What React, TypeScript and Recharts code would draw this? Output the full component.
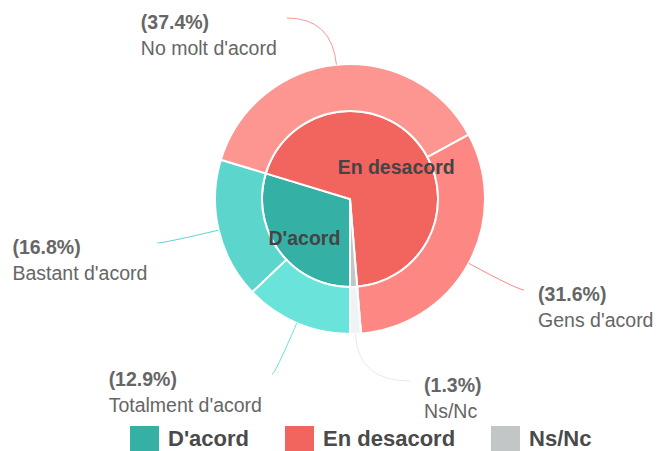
import { PieChart, Pie, Cell, Legend } from 'recharts';

// inner ring: answer groups
const GROUPS = ["D'acord", 'En desacord', 'Ns/Nc'];
const GROUP_VALUES = [29.7, 69.0, 1.3];
const GROUP_COLORS = ['#35b0a5', '#f2645e', '#c3c6c6'];

// outer ring: detailed answers
const ANSWERS = ["Totalment d'acord", "Bastant d'acord", "No molt d'acord", "Gens d'acord", 'Ns/Nc'];
const ANSWER_VALUES = [12.9, 16.8, 37.4, 31.6, 1.3];
const ANSWER_COLORS = ['#6ae4da', '#5cd6cc', '#fd9691', '#fd8883', '#eff3f6'];
const CONNECTOR_COLORS = ['#6ae4da', '#5cd6cc', '#fd9691', '#fd8883', '#e6e9ec'];

const groupData = GROUPS.map((name, i) => ({ name, value: GROUP_VALUES[i] }));
const answerData = ANSWERS.map((name, i) => ({ name, value: ANSWER_VALUES[i] }));

const FONT = '"Liberation Sans", Arial, Helvetica, sans-serif';
const LABEL_SIZE = 19.5;
const RAD = Math.PI / 180;
const CX = 350;
const CY = 199;
// labels sit on an ellipse around the pie, kept inside the plot vertically
const LABEL_RX = 198;
const LABEL_RY = 191;
const LABEL_TOP = 18;
const LABEL_BOTTOM = 381;

let measureCtx: CanvasRenderingContext2D | null = null;
function textWidth(s: string, font: string) {
  if (!measureCtx) measureCtx = document.createElement('canvas').getContext('2d');
  if (!measureCtx) return s.length * 9;
  measureCtx.font = font;
  return measureCtx.measureText(s).width;
}

function renderInnerLabel(props: any) {
  const { cx, cy, midAngle, outerRadius, index } = props;
  if (GROUP_VALUES[index] < 5) return null;
  const r = outerRadius - 30;
  const x = cx + r * Math.cos(-midAngle * RAD);
  const y = cy + r * Math.sin(-midAngle * RAD);
  return (
    <text
      x={x + 1}
      y={y + 11}
      textAnchor="middle"
      fill="#444444"
      fontFamily={FONT}
      fontSize={19.5}
      fontWeight="bold"
    >
      {GROUPS[index]}
    </text>
  );
}

function renderOuterLabel(props: any) {
  const { cx, cy, midAngle, outerRadius, index } = props;
  const cos = Math.cos(-midAngle * RAD);
  const sin = Math.sin(-midAngle * RAD);
  const sx = cx + outerRadius * cos;
  const sy = cy + outerRadius * sin;
  const right = cos >= 0;

  let ey = cy + LABEL_RY * sin;
  ey = Math.min(Math.max(ey, LABEL_TOP), LABEL_BOTTOM);
  const k = (ey - cy) / LABEL_RY;
  const ex = cx + (right ? 1 : -1) * LABEL_RX * Math.sqrt(Math.max(1 - k * k, 0));

  // bend point: where the radial ray meets the label's row
  let qx = sx;
  if (Math.abs(sin) > 0.01) {
    const t = (ey - sy) / sin;
    if (t > 0) qx = sx + t * cos;
  }
  qx = right ? Math.min(qx, ex) : Math.max(qx, ex);

  const pct = `(${ANSWER_VALUES[index].toFixed(1)}%)`;
  const name = ANSWERS[index];
  const w = Math.max(
    textWidth(pct, `bold ${LABEL_SIZE}px ${FONT}`),
    textWidth(name, `${LABEL_SIZE}px ${FONT}`)
  );
  const tx = right ? ex + 14 : ex - 10 - w;
  const base = ey + 11;

  return (
    <g>
      <path
        d={`M${sx},${sy} Q${qx},${ey} ${ex},${ey}`}
        stroke={CONNECTOR_COLORS[index]}
        strokeWidth={1}
        fill="none"
      />
      <text x={tx} y={base} fill="#666666" fontFamily={FONT} fontSize={LABEL_SIZE} fontWeight="bold">
        {pct}
      </text>
      <text x={tx} y={base + 26} fill="#666666" fontFamily={FONT} fontSize={LABEL_SIZE}>
        {name}
      </text>
    </g>
  );
}

function renderLegend() {
  return (
    <div style={{ display: 'flex', alignItems: 'flex-start', paddingLeft: 130, fontFamily: FONT }}>
      {GROUPS.map((g, i) => (
        <div key={g} style={{ display: 'flex', alignItems: 'flex-start', marginRight: 36 }}>
          <div style={{ width: 29, height: 25, background: GROUP_COLORS[i], marginRight: 9 }} />
          <span
            style={{
              fontSize: 22,
              fontWeight: 'bold',
              color: '#4a4a4a',
              lineHeight: '25px',
              whiteSpace: 'nowrap',
            }}
          >
            {g}
          </span>
        </div>
      ))}
    </div>
  );
}

export default function App() {
  return (
    <div style={{ position: 'absolute', left: 0, top: 0, width: 663, height: 451, overflow: 'hidden', background: '#fff' }}>
      <PieChart width={663} height={451} margin={{ top: 0, right: 0, bottom: 0, left: 0 }}>
        <Pie
          data={groupData}
          dataKey="value"
          cx={CX}
          cy={CY}
          outerRadius={88}
          startAngle={-90}
          endAngle={-450}
          stroke="#ffffff"
          strokeWidth={2}
          label={renderInnerLabel}
          labelLine={false}
          isAnimationActive={false}
        >
          {groupData.map((d, i) => (
            <Cell key={d.name} fill={GROUP_COLORS[i]} />
          ))}
        </Pie>
        <Pie
          data={answerData}
          dataKey="value"
          cx={CX}
          cy={CY}
          innerRadius={88}
          outerRadius={135}
          startAngle={-90}
          endAngle={-450}
          stroke="#ffffff"
          strokeWidth={2}
          label={renderOuterLabel}
          labelLine={false}
          isAnimationActive={false}
        >
          {answerData.map((d, i) => (
            <Cell key={d.name} fill={ANSWER_COLORS[i]} />
          ))}
        </Pie>
        <Legend
          content={renderLegend}
          wrapperStyle={{ position: 'absolute', left: 0, top: 426, width: 663, height: 25 }}
        />
      </PieChart>
    </div>
  );
}
